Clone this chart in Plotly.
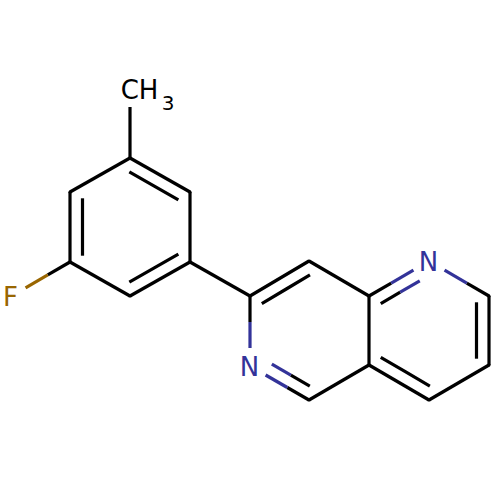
import math

import plotly.graph_objects as go

# atom positions
atom_x = [130, 130, 190, 190, 130, 70, 70, 10, 250, 250, 309, 369, 429, 489, 489, 429, 369, 309]
atom_y = [89, 158, 192, 262, 296, 262, 192, 297, 296, 366, 400, 365, 400, 365, 296, 261, 296, 261]
atom_element = ['C', 'C', 'C', 'C', 'C', 'C', 'C', 'F', 'C', 'N', 'C', 'C', 'C', 'C', 'C', 'N', 'C', 'C']

# the rings, used to find which side the second line of a double bond goes on
rings = [
    [1, 2, 3, 4, 5, 6],
    [8, 9, 10, 11, 16, 17],
    [11, 12, 13, 14, 15, 16],
]

single_bonds = [(0, 1), (2, 3), (4, 5), (6, 1), (5, 7), (3, 8), (8, 9), (10, 11),
                (11, 16), (16, 17), (12, 13), (14, 15)]
double_bonds = [(1, 2, 0), (3, 4, 0), (5, 6, 0), (8, 17, 1), (9, 10, 1),
                (11, 12, 2), (13, 14, 2), (15, 16, 2)]

label_text = ['CH', '3', 'F', 'N', 'N']
label_x = [139.5, 168, 10.5, 249.5, 428.5]
label_y = [92.5, 104.5, 299.5, 369, 264]
label_size = [26, 20, 26, 26, 26]
label_color = ['#000000', '#000000', '#996600', '#333399', '#333399']

element_color = {'C': '#000000', 'F': '#996600', 'N': '#333399'}
labelled = [0, 7, 9, 15]

LABEL_GAP = 18
INNER_OFFSET = 12.5
INNER_SHRINK = 6.3


def trim(a, b, start, end):
    """Point pair on the line a -> b, moved in from each end by the given distances."""
    ax, ay, bx, by = atom_x[a], atom_y[a], atom_x[b], atom_y[b]
    length = math.hypot(bx - ax, by - ay)
    ux, uy = (bx - ax) / length, (by - ay) / length
    return (ax + ux * start, ay + uy * start), (bx - ux * end, by - uy * end)


def add_segment(segments, a, b, p, q):
    color_a = element_color[atom_element[a]]
    color_b = element_color[atom_element[b]]
    mid = ((p[0] + q[0]) / 2, (p[1] + q[1]) / 2)
    if color_a == color_b:
        segments[color_a][0].extend([p[0], mid[0], q[0], None])
        segments[color_a][1].extend([p[1], mid[1], q[1], None])
        return
    # each half of a bond takes the colour of the atom at its end
    for color, s, e in [(color_a, p, mid), (color_b, mid, q)]:
        segments[color][0].extend([s[0], e[0], None])
        segments[color][1].extend([s[1], e[1], None])


segments = {color: ([], []) for color in element_color.values()}

for a, b in single_bonds:
    p, q = trim(a, b, LABEL_GAP if a in labelled else 0, LABEL_GAP if b in labelled else 0)
    add_segment(segments, a, b, p, q)

for a, b, ring in double_bonds:
    p, q = trim(a, b, LABEL_GAP if a in labelled else 0, LABEL_GAP if b in labelled else 0)
    add_segment(segments, a, b, p, q)

    # second line, shifted towards the middle of the ring
    cx = sum(atom_x[i] for i in rings[ring]) / 6
    cy = sum(atom_y[i] for i in rings[ring]) / 6
    p, q = trim(a, b, LABEL_GAP if a in labelled else INNER_SHRINK, LABEL_GAP if b in labelled else INNER_SHRINK)
    dx, dy = atom_x[b] - atom_x[a], atom_y[b] - atom_y[a]
    length = math.hypot(dx, dy)
    nx, ny = -dy / length, dx / length
    if nx * (cx - atom_x[a]) + ny * (cy - atom_y[a]) < 0:
        nx, ny = -nx, -ny
    add_segment(segments, a, b,
                (p[0] + nx * INNER_OFFSET, p[1] + ny * INNER_OFFSET),
                (q[0] + nx * INNER_OFFSET, q[1] + ny * INNER_OFFSET))

fig = go.Figure()

for color, (xs, ys) in segments.items():
    fig.add_trace(go.Scatter(x=xs, y=ys, mode='lines', line=dict(color=color, width=3.2, simplify=False), hoverinfo='skip'))

# fills the small notches where two bonds meet
corner_x = [x for i, x in enumerate(atom_x) if i not in labelled]
corner_y = [y for i, y in enumerate(atom_y) if i not in labelled]
fig.add_trace(go.Scatter(x=corner_x, y=corner_y, mode='markers', marker=dict(color='#000000', size=3.2), hoverinfo='skip'))

fig.add_trace(go.Scatter(
    x=label_x,
    y=label_y,
    mode='text',
    text=label_text,
    textposition='middle center',
    textfont=dict(family='DejaVu Sans', size=label_size, color=label_color),
    hoverinfo='skip'
))

fig.update_layout(
    width=500,
    height=500,
    margin=dict(l=0, r=0, t=0, b=0),
    showlegend=False,
    plot_bgcolor='white',
    paper_bgcolor='white',
    xaxis=dict(range=[0, 500], visible=False),
    yaxis=dict(range=[500, 0], visible=False)
)

fig.write_html("out.html", config=dict(displayModeBar=False), post_script="document.body.style.margin='0';")
